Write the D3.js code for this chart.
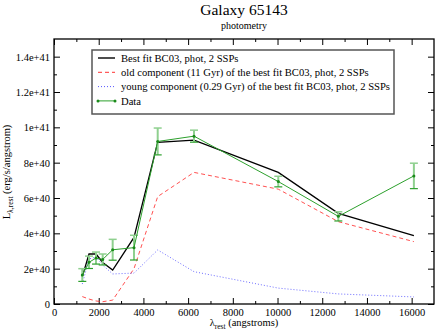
<!DOCTYPE html>
<html>
<head>
<meta charset="utf-8">
<script src="https://cdn.jsdelivr.net/npm/d3@7"></script>
<style>
  body { margin: 0; background: #fff; }
  svg { display: block; font-family: "Liberation Serif", "DejaVu Serif", serif; }
</style>
</head>
<body>
<svg id="chart" width="436" height="333"></svg>
<script>
// wavelengths (angstroms) of the photometric points
const lambda = [1266, 1566, 1880, 2178, 2625, 3579, 4639, 6263, 10034, 12720, 16100];

// observed luminosities and 1-sigma errors (erg/s/angstrom)
const dataL   = [1.64e40, 2.36e40, 2.60e40, 2.52e40, 3.07e40, 3.19e40, 9.20e40, 9.50e40, 6.93e40, 4.96e40, 7.25e40];
const dataErr = [0.36e40, 0.35e40, 0.34e40, 0.31e40, 0.59e40, 0.70e40, 0.76e40, 0.34e40, 0.30e40, 0.26e40, 0.72e40];

// model curves
const bestFit = [1.55e40, 2.83e40, 2.83e40, 2.35e40, 1.92e40, 3.77e40, 9.15e40, 9.28e40, 7.45e40, 5.13e40, 3.87e40];
const oldComp = [0.42e40, 0.28e40, 0.17e40, 0.13e40, 0.22e40, 2.00e40, 6.08e40, 7.45e40, 6.50e40, 4.66e40, 3.53e40];
const youngComp = [1.13e40, 2.55e40, 2.66e40, 2.20e40, 1.70e40, 1.75e40, 3.06e40, 1.83e40, 0.90e40, 0.57e40, 0.40e40];

// ticks
const xMajor = [0, 2000, 4000, 6000, 8000, 10000, 12000, 14000, 16000];
const xMinor = [1000, 3000, 5000, 7000, 9000, 11000, 13000, 15000];
const yMajor = [0, 2e40, 4e40, 6e40, 8e40, 1e41, 1.2e41, 1.4e41];
const yMinor = [1e40, 3e40, 5e40, 7e40, 9e40, 1.1e41, 1.3e41];

const legendLabels = [
    'Best fit BC03, phot, 2 SSPs',
    'old component (11 Gyr) of the best fit BC03, phot, 2 SSPs',
    'young component (0.29 Gyr) of the best fit BC03, phot, 2 SSPs',
    'Data'
];

const svg = d3.select('#chart');
const plot = { left: 54, right: 434, top: 39, bottom: 304 };

const x = d3.scaleLinear().domain([0, 17000]).range([plot.left, plot.right]);
const y = d3.scaleLinear().domain([0, 1.5e41]).range([plot.bottom, plot.top]);

const fmtY = d => d === 0 ? '0' : d.toExponential();

// axes: ticks point inward on all four sides
function drawAxis(axis, tx, ty) {
    const g = svg.append('g').attr('transform', `translate(${tx},${ty})`).call(axis);
    g.select('.domain').remove();
    g.selectAll('line').attr('stroke', '#000').attr('stroke-width', 1);
    g.selectAll('text').attr('font-family', '"Liberation Serif", serif').attr('font-size', 10.5).attr('fill', '#000');
    return g;
}

drawAxis(d3.axisBottom(x).tickValues(xMajor).tickSize(-6).tickPadding(5).tickFormat(d3.format('d')), 0, plot.bottom);
drawAxis(d3.axisBottom(x).tickValues(xMinor).tickSize(-3).tickFormat(''), 0, plot.bottom);
drawAxis(d3.axisTop(x).tickValues(xMajor).tickSize(-6).tickFormat(''), 0, plot.top);
drawAxis(d3.axisTop(x).tickValues(xMinor).tickSize(-3).tickFormat(''), 0, plot.top);

drawAxis(d3.axisLeft(y).tickValues(yMajor).tickSize(-6).tickPadding(4).tickFormat(fmtY), plot.left, 0);
drawAxis(d3.axisLeft(y).tickValues(yMinor).tickSize(-3).tickFormat(''), plot.left, 0);
drawAxis(d3.axisRight(y).tickValues(yMajor).tickSize(-6).tickFormat(''), plot.right, 0);
drawAxis(d3.axisRight(y).tickValues(yMinor).tickSize(-3).tickFormat(''), plot.right, 0);

svg.append('rect')
    .attr('x', plot.left).attr('y', plot.top)
    .attr('width', plot.right - plot.left).attr('height', plot.bottom - plot.top)
    .attr('fill', 'none').attr('stroke', '#000').attr('stroke-width', 1.3);

// curves
const line = d3.line().x(d => x(d[0])).y(d => y(d[1]));
const pts = vals => lambda.map((l, i) => [l, vals[i]]);

const styles = {
    best:  { stroke: '#000000', width: 1.3, dash: null },
    old:   { stroke: '#ff3333', width: 1, dash: '4,3' },
    young: { stroke: '#5555ff', width: 1, dash: '1,2' },
    data:  { stroke: '#2ca02c', width: 1, dash: null }
};

const curves = svg.append('g');
[['old', oldComp], ['young', youngComp], ['best', bestFit]].forEach(([k, vals]) => {
    curves.append('path')
        .attr('d', line(pts(vals)))
        .attr('fill', 'none')
        .attr('stroke', styles[k].stroke)
        .attr('stroke-opacity', k === 'best' ? 1 : 0.85)
        .attr('stroke-width', styles[k].width)
        .attr('stroke-dasharray', styles[k].dash);
});

// data with error bars
const dataPts = lambda.map((l, i) => ({ l, v: dataL[i], e: dataErr[i] }));
const errG = svg.append('g');
const CAP = 4;
dataPts.forEach(d => {
    const cx = x(d.l), yt = y(d.v + d.e), yb = y(d.v - d.e);
    errG.append('line').attr('x1', cx).attr('x2', cx).attr('y1', yt).attr('y2', yb)
        .attr('stroke', '#8fd08f').attr('stroke-width', 2);
    errG.append('line').attr('x1', cx - CAP).attr('x2', cx + CAP).attr('y1', yt).attr('y2', yt)
        .attr('stroke', '#8fd08f').attr('stroke-width', 1.5);
    errG.append('line').attr('x1', cx - CAP).attr('x2', cx + CAP).attr('y1', yb).attr('y2', yb)
        .attr('stroke', '#2ca02c').attr('stroke-width', 1.2);
});

svg.append('path')
    .attr('d', line(dataPts.map(d => [d.l, d.v])))
    .attr('fill', 'none')
    .attr('stroke', styles.data.stroke)
    .attr('stroke-width', styles.data.width);

svg.append('g').selectAll('circle')
    .data(dataPts)
    .join('circle')
    .attr('cx', d => x(d.l))
    .attr('cy', d => y(d.v))
    .attr('r', 1.5)
    .attr('fill', '#1a8a1a');

// legend
const legend = svg.append('g');
legend.append('rect')
    .attr('x', 92).attr('y', 50).attr('width', 302).attr('height', 64)
    .attr('fill', '#fff').attr('stroke', '#555').attr('stroke-width', 1.5);

['best', 'old', 'young', 'data'].forEach((k, i) => {
    const ly = 58 + i * 14.3;
    legend.append('line')
        .attr('x1', 98).attr('x2', 115).attr('y1', ly).attr('y2', ly)
        .attr('stroke', styles[k].stroke)
        .attr('stroke-width', k === 'best' ? 1.4 : 1)
        .attr('stroke-dasharray', styles[k].dash);
    if (k === 'data') {
        legend.selectAll(null).data([98, 115]).join('circle')
            .attr('cx', d => d).attr('cy', ly).attr('r', 1.5).attr('fill', '#1a8a1a');
    }
    legend.append('text')
        .attr('x', 121).attr('y', ly).attr('dy', '0.35em')
        .attr('font-size', 10.6)
        .text(legendLabels[i]);
});

// titles
svg.append('text').attr('x', 244).attr('y', 15).attr('text-anchor', 'middle')
    .attr('font-size', 15.5).text('Galaxy 65143');
svg.append('text').attr('x', 244).attr('y', 28.5).attr('text-anchor', 'middle')
    .attr('font-size', 10).text('photometry');

// x label
const xl = svg.append('text').attr('x', 244).attr('y', 326).attr('text-anchor', 'middle').attr('font-size', 10.5);
xl.append('tspan').text('λ');
xl.append('tspan').attr('font-size', 7.5).attr('dy', 2.5).text('rest');
xl.append('tspan').attr('dy', -2.5).text(' (angstroms)');

// y label
const yl = svg.append('text')
    .attr('transform', 'translate(10,172) rotate(-90)')
    .attr('text-anchor', 'middle').attr('font-size', 10.5);
yl.append('tspan').text('L');
yl.append('tspan').attr('font-size', 7.5).attr('dy', 2.5).text('λ,rest');
yl.append('tspan').attr('dy', -2.5).text(' (erg/s/angstrom)');
</script>
</body>
</html>
